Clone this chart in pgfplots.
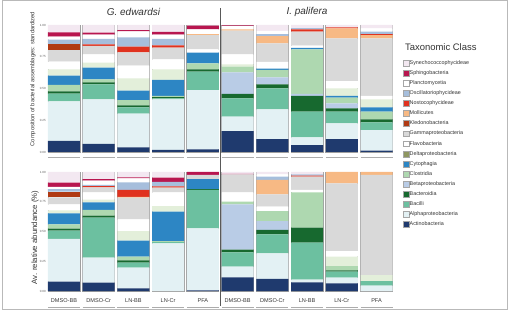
\documentclass[border=0pt]{standalone}
\usepackage{pgfplots}
\usepackage{pgfplotstable}
\pgfplotsset{compat=1.18}
\usepackage{fontspec}
\setmainfont{Liberation Sans}

% stacking order, bottom to top
\definecolor{cAct}{HTML}{1F3A6E}
\definecolor{cAlp}{HTML}{E3F1F4}
\definecolor{cBac}{HTML}{6CC0A0}
\definecolor{cBdt}{HTML}{17692F}
\definecolor{cBet}{HTML}{B9CCE6}
\definecolor{cClo}{HTML}{AED8B0}
\definecolor{cCyt}{HTML}{2D86C4}
\definecolor{cDel}{HTML}{8E9660}
\definecolor{cPal}{HTML}{E3EFDA}
\definecolor{cFla}{HTML}{FFFFFF}
\definecolor{cGam}{HTML}{D9D9D9}
\definecolor{cKle}{HTML}{B03A14}
\definecolor{cMol}{HTML}{F7B984}
\definecolor{cNos}{HTML}{E0321F}
\definecolor{cOsc}{HTML}{A6BEDC}
\definecolor{cPla}{HTML}{FFFFFF}
\definecolor{cSph}{HTML}{B8164F}
\definecolor{cSyn}{HTML}{F3E8F1}
\definecolor{txt}{HTML}{333333}

% standardized composition
\pgfplotstableread{
x Act Alp Bac Bdt Bet Clo Cyt Del Pal Fla Gam Kle Mol Nos Osc Pla Sph Syn
0 0.087 0.312 0.060 0.019 0 0.050 0.073 0 0.050 0.060 0.092 0.045 0 0 0.037 0.023 0.034 0.058
1 0.063 0.352 0.118 0.016 0 0.023 0.092 0 0.039 0.066 0.066 0 0 0.013 0.042 0.034 0.016 0.060
2 0.037 0.265 0.050 0.015 0 0.042 0.074 0 0.097 0.100 0.105 0 0 0.044 0.074 0.047 0.010 0.040
3 0.016 0.399 0.008 0.010 0 0.008 0.126 0 0.084 0.079 0.092 0 0 0.018 0.050 0.034 0.021 0.055
4 0.021 0.467 0.145 0.018 0 0.047 0.084 0 0 0.026 0.113 0 0.008 0 0 0.037 0.029 0.005
5 0.165 0.113 0.145 0.034 0.170 0.045 0 0 0.018 0.079 0.186 0 0.011 0 0 0.026 0.005 0.003
6 0.102 0.234 0.165 0.032 0.055 0.058 0.010 0 0 0.053 0.147 0 0.057 0 0.016 0.024 0 0.047
7 0.055 0.060 0.203 0.123 0.016 0.351 0.011 0 0 0.018 0.111 0 0 0.018 0.010 0 0 0.024
8 0.102 0.124 0.092 0.026 0.039 0.045 0.013 0 0.060 0.058 0.336 0 0.079 0.008 0 0 0 0.018
9 0.010 0.163 0.061 0.023 0 0.061 0.034 0 0.063 0.026 0.454 0 0.026 0.008 0.019 0.026 0 0.026
}\tabtop

% average relative abundance
\pgfplotstableread{
x Act Alp Bac Bdt Bet Clo Cyt Del Pal Fla Gam Kle Mol Nos Osc Pla Sph Syn
0 0.078 0.359 0.070 0.017 0 0.036 0.093 0 0.025 0.050 0.059 0.048 0 0 0.022 0.017 0.036 0.090
1 0.070 0.210 0.336 0.017 0 0.048 0.064 0 0.023 0.061 0.042 0 0 0.010 0.010 0.036 0.014 0.059
2 0.023 0.173 0.042 0.020 0 0.031 0.134 0 0.081 0.098 0.182 0 0.008 0.057 0.064 0.034 0.008 0.045
3 0 0.400 0.010 0 0 0.010 0.247 0 0.047 0.115 0.039 0 0 0.011 0.039 0 0.034 0.048
4 0.005 0.522 0.322 0.008 0 0 0.084 0 0 0 0.034 0 0 0 0 0 0.025 0
5 0.115 0.089 0.121 0.022 0.381 0.023 0 0 0 0.078 0.151 0 0 0 0 0 0.005 0.015
6 0.101 0.216 0.159 0.037 0.075 0.084 0 0 0 0.037 0.103 0 0.121 0 0.028 0.020 0 0.019
7 0.073 0.022 0.311 0.126 0 0.297 0 0 0 0.020 0.112 0 0 0.008 0.010 0 0 0.021
8 0.064 0.048 0.050 0.012 0 0.036 0 0 0.079 0.047 0.569 0 0.095 0 0 0 0 0
9 0 0.045 0.039 0 0 0 0 0 0.050 0 0.841 0 0.025 0 0 0 0 0
}\tabbot

\newcommand{\seg}[2]{\addplot[fill=c#2, draw=none] table[x=x, y=#2] {#1};}
\newcommand{\stackbars}[1]{%
  \seg{#1}{Act}\seg{#1}{Alp}\seg{#1}{Bac}\seg{#1}{Bdt}\seg{#1}{Bet}\seg{#1}{Clo}%
  \seg{#1}{Cyt}\seg{#1}{Del}%
  \addplot[fill=cPal, draw=none, forget plot] table[x=x, y=Pal] {#1};%
  \seg{#1}{Fla}\seg{#1}{Gam}\seg{#1}{Kle}\seg{#1}{Mol}\seg{#1}{Nos}\seg{#1}{Osc}%
  \seg{#1}{Pla}\seg{#1}{Sph}\seg{#1}{Syn}%
}
\newcommand{\outlines}[1]{%
  \pgfplotsinvokeforeach{0,...,9}{%
    \draw[gray!75, line width=0.8bp] ([xshift=-16bp]axis cs:##1,0) rectangle ([xshift=16bp]axis cs:##1,1);
    \draw[gray!65, line width=0.7bp] ([xshift=-16bp,yshift=-#1]axis cs:##1,0) -- ([xshift=16bp,yshift=-#1]axis cs:##1,0);
  }%
}

\pgfplotsset{
  panel/.style={
    scale only axis, width=347.3bp,
    xmin=-0.5, xmax=9.5, ymin=0, ymax=1, enlargelimits=false,
    ybar stacked, bar width=32bp,
    axis line style={draw=none}, major tick length=0pt,
    ytick={0,0.25,0.5,0.75,1},
    yticklabels={0.00,0.25,0.50,0.75,1.00},
    yticklabel style={font=\fontsize{3}{3}\selectfont, text=gray!70!black, inner sep=0.6bp},
    clip=false,
  }
}

\begin{document}
\begin{tikzpicture}
\useasboundingbox (0bp,0bp) rectangle (508bp,310bp);
\draw[gray!55, line width=0.8bp] (2.6bp,0.6bp) rectangle (507.4bp,309.4bp);

% standardized composition
\begin{axis}[panel, at={(46.6bp,158bp)}, anchor=south west, height=127bp,
  xtick=\empty,
  reverse legend,
  legend image code/.code={\draw[#1, draw=gray!70, line width=0.4bp] (0bp,-2.9bp) rectangle (5.8bp,2.9bp);},
  legend style={draw=none, fill=none, at={(axis description cs:1.0253,0.7268)}, anchor=north west,
    font=\fontsize{5.4}{6}\selectfont, text=txt, row sep=3.9bp, inner sep=0pt,
    nodes={inner sep=0.6bp, text height=3.8bp, text depth=1.2bp}},
  legend cell align=left,
]
\stackbars{\tabtop}
\outlines{5bp}
\legend{Actinobacteria, Alphaproteobacteria, Bacilli, Bacteroidia, Betaproteobacteria, Clostridia,
  Cytophagia, Deltaproteobacteria, Flavobacteria, Gammaproteobacteria, Kledonobacteria, Mollicutes,
  Nostocophycideae, Oscillatoriophycideae, Planctomycetia, Sphingobacteria, Synechococcophycideae}
\end{axis}

% average relative abundance
\begin{axis}[panel, at={(46.6bp,19bp)}, anchor=south west, height=119bp,
  xtick={0,...,9},
  xticklabels={DMSO-BB, DMSO-Cr, LN-BB, LN-Cr, PFA, DMSO-BB, DMSO-Cr, LN-BB, LN-Cr, PFA},
  xticklabel style={font=\fontsize{5.6}{6}\selectfont, text=txt, inner sep=0pt, yshift=-7.5bp},
]
\stackbars{\tabbot}
\outlines{16bp}
\end{axis}

% group divider and headings
\draw[black!65, line width=1bp] (220bp,4bp) -- (220bp,302bp);
\node[font=\fontsize{10}{12}\selectfont\itshape, text=txt] at (133.5bp,298bp) {G. edwardsi};
\node[font=\fontsize{10}{12}\selectfont\itshape, text=txt] at (307bp,298bp) {I. palifera};
\node[font=\fontsize{5.8}{7}\selectfont, text=txt, rotate=90] at (33bp,231bp) {Composition of bacterial assemblages: standardized};
\node[font=\fontsize{7.8}{9}\selectfont, text=txt, rotate=90] at (35bp,72.5bp) {Av. relative abundance (\%)};
\node[font=\fontsize{9.5}{11}\selectfont, text=txt, anchor=west] at (401.5bp,263bp) {Taxonomic Class};
\end{tikzpicture}
\end{document}
